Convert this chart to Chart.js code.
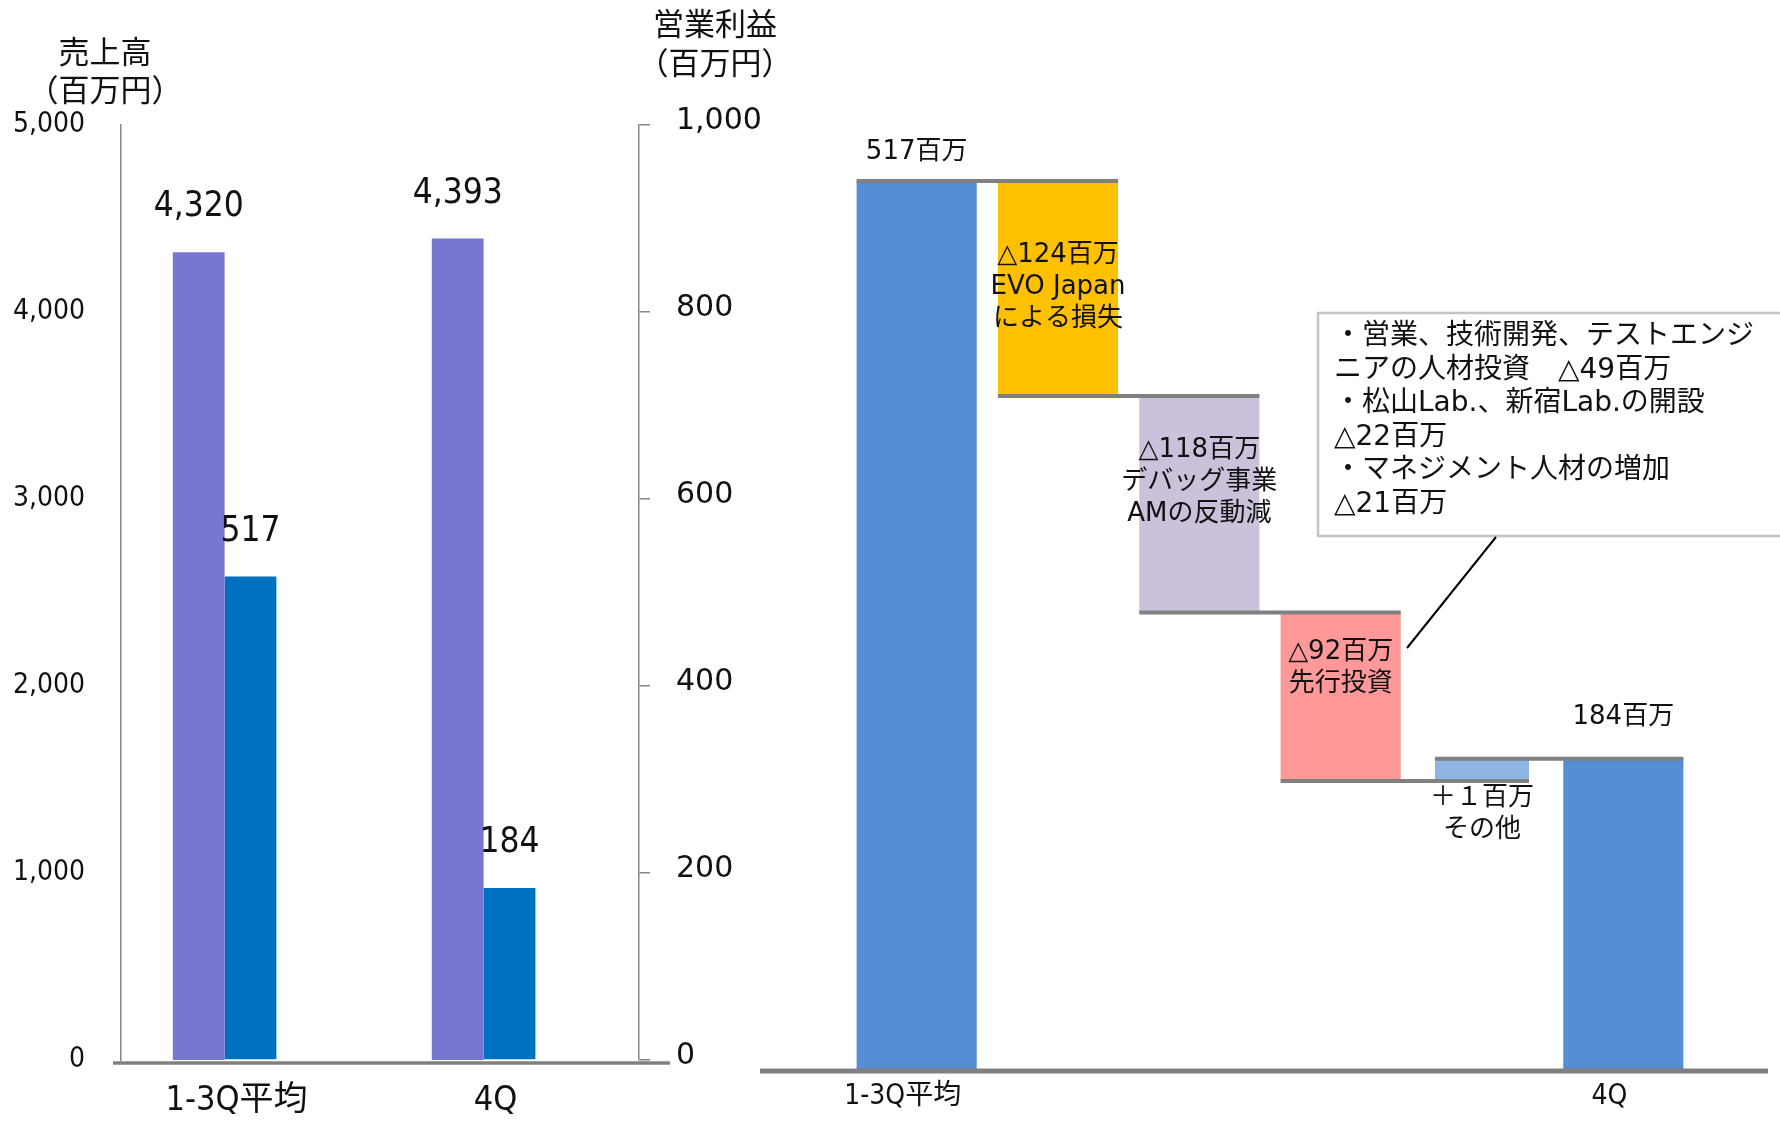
<!DOCTYPE html>
<html><head><meta charset="utf-8">
<script src="https://cdn.jsdelivr.net/npm/chart.js@4.4.0/dist/chart.umd.min.js"></script>
<style>
html,body{margin:0;padding:0;background:#fff;width:1780px;height:1121px;overflow:hidden;}
canvas{position:absolute;top:0;}
#left{left:0;}
#right{left:740px;}
</style></head><body>
<canvas id="left" width="780" height="1121"></canvas>
<canvas id="right" width="1040" height="1121"></canvas>
<script>
// ---------- data ----------
const leftCategories = ['1-3Q平均', '4Q'];
const salesValues = [4320, 4393];          // 売上高（百万円）
const profitValues = [517, 184];           // 営業利益（百万円）
const salesTicks = ['0', '1,000', '2,000', '3,000', '4,000', '5,000'];
const profitTicks = ['0', '200', '400', '600', '800', '1,000'];

const wfCategories = ['1-3Q平均', '', '', '', '', '4Q'];
const wfKinds = ['total', 'decrease', 'decrease', 'decrease', 'increase', 'total'];
const wfFrom = [0, 517, 392, 266, 168, 0];     // bar bottoms/starts as drawn
const wfTo = [517, 392, 266, 168, 181, 181];   // bar ends as drawn
const wfColors = ['#558ED5', '#FFC000', '#CCC1DA', '#FF9999', '#8EB4E3', '#558ED5'];
const wfLabelLines = [
  ['517百万'],
  ['△124百万', 'EVO Japan', 'による損失'],
  ['△118百万', 'デバッグ事業', 'AMの反動減'],
  ['△92百万', '先行投資'],
  ['＋１百万', 'その他'],
  ['184百万']
];
const noteLines = [
  '・営業、技術開発、テストエンジ',
  'ニアの人材投資　△49百万',
  '・松山Lab.、新宿Lab.の開設',
  '△22百万',
  '・マネジメント人材の増加',
  '△21百万'
];

// ---------- styles ----------
const CONDENSED = "'DejaVu Sans Condensed','Liberation Sans Narrow','Noto Sans CJK JP',sans-serif";
const WIDE = "'DejaVu Sans','Noto Sans CJK JP',sans-serif";
const CJK = "'Noto Sans CJK JP','DejaVu Sans',sans-serif";
const TXT = '#111';
const AXIS_GRAY = '#868686';
const BASE_GRAY = '#808080';

// ---------- left chart ----------
const leftDecor = {
  id: 'leftDecor',
  afterDatasetsDraw(chart) {
    const ctx = chart.ctx;
    const ca = chart.chartArea;
    // baseline
    ctx.save();
    ctx.strokeStyle = BASE_GRAY;
    ctx.lineWidth = 3.5;
    ctx.beginPath();
    ctx.moveTo(ca.left - 8, ca.bottom + 3);
    ctx.lineTo(ca.right + 31, ca.bottom + 3);
    ctx.stroke();
    // value labels
    ctx.fillStyle = TXT;
    ctx.textAlign = 'center';
    ctx.textBaseline = 'middle';
    ctx.font = '35px ' + CONDENSED;
    [0, 1].forEach(di => {
      const meta = chart.getDatasetMeta(di);
      const vals = chart.data.datasets[di].data;
      meta.data.forEach((el, i) => {
        ctx.fillText(vals[i].toLocaleString('en-US'), el.x, el.y - 45);
      });
    });
    // axis titles
    ctx.font = '31px ' + CJK;
    ctx.fillText('売上高', 105, 51);
    ctx.fillText('（百万円）', 105, 89);
    ctx.fillText('営業利益', 715, 23);
    ctx.fillText('（百万円）', 715, 62);
    ctx.restore();
  }
};

new Chart(document.getElementById('left'), {
  type: 'bar',
  data: {
    labels: leftCategories,
    datasets: [
      { label: '売上高', data: salesValues, backgroundColor: '#7776D0', yAxisID: 'ySales', barPercentage: 1, categoryPercentage: 0.6 },
      { label: '営業利益', data: profitValues, backgroundColor: '#0070C0', yAxisID: 'yProfit', barPercentage: 1, categoryPercentage: 0.6 },
      { label: '', data: [null, null], yAxisID: 'yProfit', barPercentage: 1, categoryPercentage: 0.6 }
    ]
  },
  options: {
    responsive: false, animation: false, devicePixelRatio: 1,
    layout: { padding: { top: 125, left: 0, right: 0, bottom: 0 } },
    plugins: { legend: { display: false }, tooltip: { enabled: false } },
    scales: {
      x: {
        grid: { display: false, drawTicks: false },
        border: { display: false },
        ticks: { font: { family: CONDENSED, size: 34 }, color: TXT, padding: 21, labelOffset: -14 },
        afterFit(s) { s.height = 61; }
      },
      ySales: {
        position: 'left', min: 0, max: 5000,
        ticks: { stepSize: 1000, callback: (v, i) => salesTicks[i], font: { family: CONDENSED, size: 28 }, color: TXT, padding: 36 },
        grid: { display: false, drawTicks: false },
        border: { display: true, color: AXIS_GRAY, width: 1.5 },
        afterFit(s) { s.width = 121; }
      },
      yProfit: {
        position: 'right', min: 0, max: 1000,
        ticks: { stepSize: 200, callback: (v, i) => profitTicks[i], font: { family: WIDE, size: 30 }, color: TXT, padding: 26, labelOffset: -4 },
        grid: { display: true, drawOnChartArea: false, drawTicks: true, tickLength: 11, color: AXIS_GRAY, lineWidth: 1.5 },
        border: { display: true, color: AXIS_GRAY, width: 1.5 },
        afterFit(s) { s.width = 141; }
      }
    }
  },
  plugins: [leftDecor]
});

// ---------- waterfall chart ----------
const wfLabelAnchor = ['top', 'top', 'top', 'top', 'bottom', 'top'];
const wfLabelOffset = [-29, 74, 54, 40, 17, -41];

function wfElement(chart, i) {
  const di = wfKinds[i] === 'increase' ? 1 : 0;
  return chart.getDatasetMeta(di).data[i];
}

const wfDecor = {
  id: 'wfDecor',
  afterDatasetsDraw(chart) {
    const ctx = chart.ctx;
    const ca = chart.chartArea;
    const y = chart.scales.y;
    ctx.save();
    // baseline
    ctx.strokeStyle = BASE_GRAY;
    ctx.lineWidth = 5;
    ctx.beginPath();
    ctx.moveTo(ca.left - 86, y.getPixelForValue(0) + 1);
    ctx.lineTo(ca.right + 74, y.getPixelForValue(0) + 1);
    ctx.stroke();
    // connectors
    ctx.lineWidth = 4;
    for (let i = 0; i < wfTo.length - 1; i++) {
      const a = wfElement(chart, i), b = wfElement(chart, i + 1);
      const py = y.getPixelForValue(wfTo[i]);
      ctx.beginPath();
      ctx.moveTo(a.x - a.width / 2, py);
      ctx.lineTo(b.x + b.width / 2, py);
      ctx.stroke();
    }
    // labels
    ctx.fillStyle = TXT;
    ctx.textAlign = 'center';
    ctx.textBaseline = 'middle';
    ctx.font = '26px ' + WIDE;
    wfLabelLines.forEach((lines, i) => {
      const el = wfElement(chart, i);
      const top = Math.min(el.y, el.base), bottom = Math.max(el.y, el.base);
      const start = (wfLabelAnchor[i] === 'top' ? top : bottom) + wfLabelOffset[i];
      lines.forEach((t, k) => ctx.fillText(t, el.x, start + k * 32));
    });
    // note box
    ctx.strokeStyle = '#C4C4C4';
    ctx.lineWidth = 2.5;
    ctx.fillStyle = '#fff';
    ctx.beginPath();
    ctx.rect(578, 313, 520, 223);
    ctx.fill();
    ctx.stroke();
    ctx.fillStyle = TXT;
    ctx.textAlign = 'left';
    ctx.font = '28px ' + WIDE;
    noteLines.forEach((t, k) => ctx.fillText(t, 594, 337 + k * 33.5));
    // leader line
    ctx.strokeStyle = '#000';
    ctx.lineWidth = 2;
    ctx.beginPath();
    ctx.moveTo(756, 537);
    ctx.lineTo(667, 648);
    ctx.stroke();
    ctx.restore();
  }
};

new Chart(document.getElementById('right'), {
  type: 'bar',
  data: {
    labels: wfCategories,
    datasets: [
      {
        label: '営業利益',
        data: wfFrom.map((f, i) => wfKinds[i] === 'increase' ? null : [f, wfTo[i]]),
        backgroundColor: wfColors, barPercentage: 0.85, categoryPercentage: 1, grouped: false
      },
      {
        label: '増加',
        data: wfFrom.map((f, i) => wfKinds[i] === 'increase' ? [f, wfTo[i]] : null),
        backgroundColor: wfColors, barPercentage: 0.665, categoryPercentage: 1, grouped: false
      }
    ]
  },
  options: {
    responsive: false, animation: false, devicePixelRatio: 1,
    layout: { padding: { top: 107, left: 106, right: 86, bottom: 0 } },
    plugins: { legend: { display: false }, tooltip: { enabled: false } },
    scales: {
      x: {
        grid: { display: false, drawTicks: false },
        border: { display: false },
        ticks: { font: { family: CONDENSED, size: 28 }, color: TXT, padding: 10, autoSkip: false, maxRotation: 0, labelOffset: -14 },
        afterFit(s) { s.height = 51; }
      },
      y: { display: false, min: 0, max: 560 }
    }
  },
  plugins: [wfDecor]
});
</script>
</body></html>
